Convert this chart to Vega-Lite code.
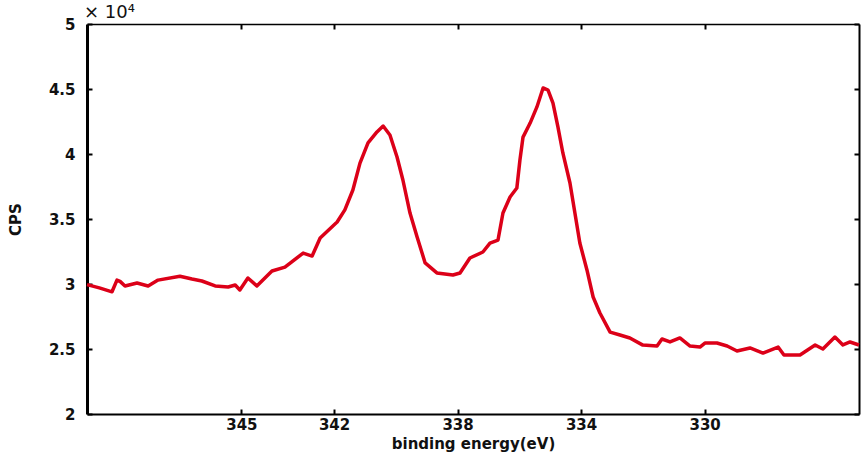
{
  "$schema": "https://vega.github.io/schema/vega-lite/v6.json",
  "width": 772,
  "height": 390,
  "autosize": {"type": "none"},
  "padding": {"left": 87, "top": 24, "right": 7, "bottom": 39},
  "background": "white",
  "config": {
    "view": {"stroke": null},
    "font": "DejaVu Sans",
    "axis": {
      "labelFont": "DejaVu Sans",
      "labelFontWeight": "bold",
      "labelFontSize": 15,
      "labelColor": "#111",
      "titleFont": "DejaVu Sans",
      "titleFontWeight": "bold",
      "titleFontSize": 15,
      "titleColor": "#111",
      "domainColor": "#000",
      "tickColor": "#000",
      "grid": false
    }
  },
  "data": {
    "values": [
      {"energy": 350.0, "cps": 29950},
      {"energy": 349.6, "cps": 29700},
      {"energy": 349.19, "cps": 29400},
      {"energy": 349.03, "cps": 30300},
      {"energy": 348.93, "cps": 30200},
      {"energy": 348.77, "cps": 29850},
      {"energy": 348.38, "cps": 30080},
      {"energy": 348.02, "cps": 29850},
      {"energy": 347.7, "cps": 30300},
      {"energy": 346.99, "cps": 30600},
      {"energy": 346.6, "cps": 30380},
      {"energy": 346.28, "cps": 30230},
      {"energy": 345.85, "cps": 29850},
      {"energy": 345.43, "cps": 29770},
      {"energy": 345.2, "cps": 29920},
      {"energy": 345.05, "cps": 29540},
      {"energy": 344.79, "cps": 30460},
      {"energy": 344.5, "cps": 29850},
      {"energy": 344.01, "cps": 31000},
      {"energy": 343.59, "cps": 31300},
      {"energy": 343.0, "cps": 32380},
      {"energy": 342.71, "cps": 32150},
      {"energy": 342.45, "cps": 33540},
      {"energy": 341.9, "cps": 34770},
      {"energy": 341.65, "cps": 35700},
      {"energy": 341.39, "cps": 37230},
      {"energy": 341.16, "cps": 39300},
      {"energy": 340.9, "cps": 40850},
      {"energy": 340.61, "cps": 41700},
      {"energy": 340.41, "cps": 42150},
      {"energy": 340.19, "cps": 41460},
      {"energy": 339.96, "cps": 39770},
      {"energy": 339.77, "cps": 38000},
      {"energy": 339.54, "cps": 35460},
      {"energy": 339.31, "cps": 33620},
      {"energy": 339.05, "cps": 31620},
      {"energy": 338.67, "cps": 30850},
      {"energy": 338.15, "cps": 30690},
      {"energy": 337.92, "cps": 30850},
      {"energy": 337.6, "cps": 32000},
      {"energy": 337.18, "cps": 32460},
      {"energy": 336.95, "cps": 33150},
      {"energy": 336.69, "cps": 33380},
      {"energy": 336.53, "cps": 35460},
      {"energy": 336.3, "cps": 36690},
      {"energy": 336.08, "cps": 37380},
      {"energy": 335.98, "cps": 39540},
      {"energy": 335.88, "cps": 41300},
      {"energy": 335.65, "cps": 42380},
      {"energy": 335.43, "cps": 43620},
      {"energy": 335.23, "cps": 45080},
      {"energy": 335.07, "cps": 44920},
      {"energy": 334.91, "cps": 43920},
      {"energy": 334.75, "cps": 42080},
      {"energy": 334.59, "cps": 40080},
      {"energy": 334.36, "cps": 37770},
      {"energy": 334.2, "cps": 35460},
      {"energy": 334.04, "cps": 33150},
      {"energy": 333.81, "cps": 31080},
      {"energy": 333.61, "cps": 29000},
      {"energy": 333.39, "cps": 27770},
      {"energy": 333.06, "cps": 26300},
      {"energy": 332.74, "cps": 26080},
      {"energy": 332.42, "cps": 25850},
      {"energy": 332.0, "cps": 25300},
      {"energy": 331.54, "cps": 25230},
      {"energy": 331.38, "cps": 25770},
      {"energy": 331.12, "cps": 25540},
      {"energy": 330.8, "cps": 25850},
      {"energy": 330.47, "cps": 25230},
      {"energy": 330.15, "cps": 25150},
      {"energy": 329.99, "cps": 25460},
      {"energy": 329.6, "cps": 25460},
      {"energy": 329.27, "cps": 25230},
      {"energy": 328.95, "cps": 24850},
      {"energy": 328.53, "cps": 25080},
      {"energy": 328.11, "cps": 24690},
      {"energy": 327.62, "cps": 25150},
      {"energy": 327.43, "cps": 24540},
      {"energy": 326.91, "cps": 24540},
      {"energy": 326.42, "cps": 25310},
      {"energy": 326.17, "cps": 25000},
      {"energy": 325.78, "cps": 25920},
      {"energy": 325.52, "cps": 25310},
      {"energy": 325.29, "cps": 25540},
      {"energy": 325.0, "cps": 25310}
    ]
  },
  "layer": [
    {
      "mark": {"type": "line", "color": "#dc0018", "strokeWidth": 3.5, "strokeJoin": "round"},
      "encoding": {
        "x": {
          "field": "energy", "type": "quantitative",
          "scale": {"domain": [325, 350], "reverse": true, "nice": false, "zero": false},
          "axis": {
            "orient": "bottom",
            "title": "binding energy(eV)",
            "values": [345, 342, 338, 334, 330],
            "tickSize": -5, "tickWidth": 2,
            "domainWidth": 2,
            "labelPadding": 8,
            "titlePadding": 4
          }
        },
        "y": {
          "field": "cps", "type": "quantitative",
          "scale": {"domain": [20000, 50000], "nice": false, "zero": false},
          "axis": {
            "orient": "left",
            "title": "CPS",
            "values": [20000, 25000, 30000, 35000, 40000, 45000, 50000],
            "labelExpr": "datum.value / 10000",
            "tickSize": -5, "tickWidth": 2,
            "domainWidth": 3,
            "labelPadding": 17,
            "titlePadding": 25
          }
        }
      }
    },
    {
      "mark": {"type": "line", "opacity": 0},
      "encoding": {
        "x": {
          "field": "energy", "type": "quantitative",
          "scale": {"domain": [325, 350], "reverse": true, "nice": false, "zero": false},
          "axis": {
            "orient": "top", "title": null, "labels": false,
            "values": [345, 342, 338, 334, 330],
            "tickSize": -5, "tickWidth": 2, "domainWidth": 1.5
          }
        },
        "y": {
          "field": "cps", "type": "quantitative",
          "scale": {"domain": [20000, 50000], "nice": false, "zero": false},
          "axis": {
            "orient": "right", "title": null, "labels": false,
            "values": [20000, 25000, 30000, 35000, 40000, 45000, 50000],
            "tickSize": -5, "tickWidth": 2, "domainWidth": 2
          }
        }
      }
    },
    {
      "data": {"values": [{"energy": 350, "cps": 50000, "label": "× 10⁴"}]},
      "mark": {"type": "text", "align": "left", "baseline": "alphabetic", "dx": -3, "dy": -6, "fontSize": 18, "font": "DejaVu Sans", "color": "#111"},
      "encoding": {
        "x": {"field": "energy", "type": "quantitative", "axis": null},
        "y": {"field": "cps", "type": "quantitative", "axis": null},
        "text": {"field": "label"}
      }
    }
  ],
  "resolve": {"axis": {"x": "independent", "y": "independent"}}
}
